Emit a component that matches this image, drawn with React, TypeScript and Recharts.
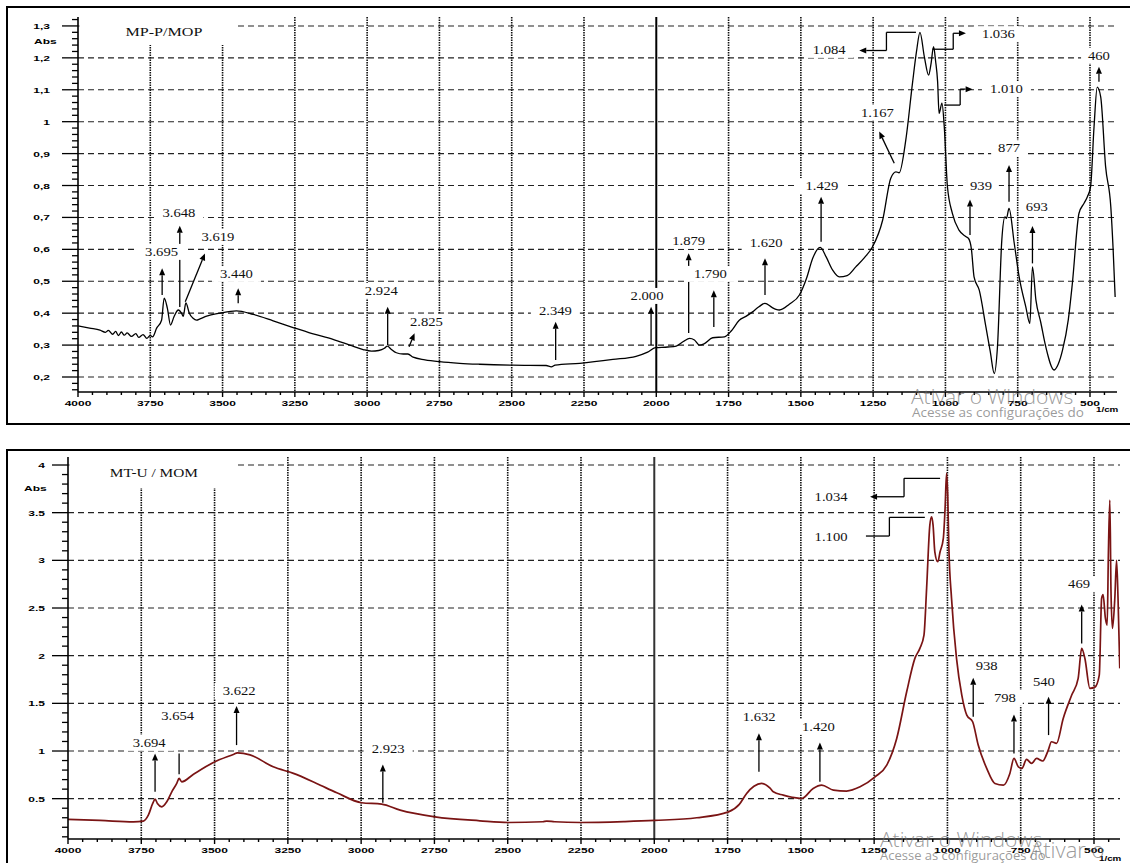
import React from 'react';
import { LineChart, Line, XAxis, YAxis, CartesianGrid, ReferenceLine, ReferenceDot, ReferenceArea } from 'recharts';

// MP-P/MOP spectrum: [wavenumber 1/cm, absorbance]
const mpSpectrum: [number, number][] = [
  [4000, 0.36], [3960, 0.353], [3924, 0.347], [3905, 0.34], [3895, 0.346], [3880, 0.334], [3870, 0.343],
  [3860, 0.33], [3850, 0.341], [3840, 0.331], [3830, 0.338], [3815, 0.327], [3800, 0.336], [3790, 0.324],
  [3775, 0.333], [3762, 0.321], [3750, 0.33], [3742, 0.326], [3728, 0.353], [3711, 0.378], [3702, 0.447],
  [3691, 0.416], [3680, 0.363], [3668, 0.389], [3653, 0.41], [3642, 0.4], [3636, 0.39], [3627, 0.432],
  [3615, 0.4], [3602, 0.384], [3590, 0.378], [3578, 0.382], [3555, 0.391], [3509, 0.4], [3452, 0.407],
  [3394, 0.396], [3325, 0.376], [3256, 0.355], [3190, 0.336], [3118, 0.318], [3060, 0.3], [3014, 0.286],
  [2985, 0.281], [2960, 0.283], [2940, 0.29], [2930, 0.297], [2918, 0.288], [2899, 0.276], [2875, 0.272],
  [2859, 0.272], [2841, 0.262], [2800, 0.254], [2749, 0.248], [2680, 0.243], [2611, 0.24], [2496, 0.237],
  [2381, 0.236], [2363, 0.232], [2350, 0.237], [2265, 0.243], [2150, 0.255], [2070, 0.265], [2030, 0.278],
  [2003, 0.292], [1960, 0.294], [1931, 0.297], [1905, 0.312], [1885, 0.321], [1868, 0.316], [1851, 0.3],
  [1835, 0.304], [1805, 0.323], [1764, 0.326], [1740, 0.345], [1713, 0.378], [1690, 0.39], [1667, 0.404],
  [1645, 0.42], [1624, 0.431], [1600, 0.418], [1586, 0.412], [1574, 0.41], [1540, 0.428], [1505, 0.457],
  [1480, 0.51], [1459, 0.572], [1433, 0.606], [1413, 0.577], [1390, 0.535], [1367, 0.514], [1340, 0.518],
  [1310, 0.545], [1280, 0.574], [1252, 0.608], [1217, 0.692], [1189, 0.823], [1171, 0.843], [1160, 0.84],
  [1137, 0.943], [1114, 1.12], [1100, 1.22], [1088, 1.28], [1073, 1.204], [1058, 1.146], [1050, 1.18],
  [1041, 1.235], [1034, 1.19], [1027, 1.125], [1022, 1.026], [1012, 1.058], [1004, 0.984], [993, 0.796],
  [976, 0.713], [953, 0.66], [930, 0.64], [920, 0.634], [910, 0.6], [901, 0.514], [883, 0.472], [860, 0.357],
  [845, 0.28], [831, 0.211], [820, 0.295], [805, 0.629], [794, 0.702], [789, 0.697], [780, 0.728],
  [762, 0.619], [745, 0.514], [722, 0.42], [708, 0.368], [699, 0.545], [687, 0.441], [670, 0.37],
  [653, 0.295], [624, 0.222], [610, 0.24], [595, 0.284], [575, 0.38], [561, 0.493], [538, 0.713],
  [520, 0.745], [509, 0.765], [498, 0.796], [486, 0.984], [475, 1.108], [463, 1.078], [446, 0.859],
  [428, 0.733], [420, 0.6], [413, 0.451],
];

// MT-U / MOM spectrum
const mtSpectrum: [number, number][] = [
  [4000, 0.282], [3891, 0.272], [3777, 0.257], [3743, 0.265], [3726, 0.327], [3711, 0.45], [3703, 0.495],
  [3695, 0.45], [3680, 0.415], [3663, 0.467], [3646, 0.572], [3629, 0.66], [3621, 0.712], [3612, 0.677],
  [3573, 0.754], [3504, 0.88], [3436, 0.964], [3422, 0.981], [3379, 0.96], [3300, 0.834], [3231, 0.765],
  [3152, 0.66], [3083, 0.562], [2998, 0.457], [2930, 0.443], [2867, 0.38], [2748, 0.31], [2595, 0.268],
  [2498, 0.25], [2380, 0.258], [2367, 0.265], [2340, 0.258], [2253, 0.25], [2100, 0.26], [1998, 0.272],
  [1855, 0.3], [1747, 0.362], [1710, 0.44], [1685, 0.555], [1660, 0.63], [1634, 0.66], [1605, 0.61],
  [1594, 0.572], [1560, 0.537], [1530, 0.515], [1497, 0.502], [1458, 0.607], [1429, 0.642], [1389, 0.59],
  [1344, 0.58], [1298, 0.624], [1247, 0.729], [1207, 0.852], [1173, 1.132], [1139, 1.621], [1111, 1.972],
  [1094, 2.077], [1080, 2.216], [1071, 2.706], [1060, 3.37], [1054, 3.457], [1049, 3.37], [1043, 3.09],
  [1033, 2.985], [1025, 3.09], [1014, 3.23], [1008, 3.545], [1003, 3.913], [999, 3.685], [995, 3.126],
  [986, 2.601], [969, 1.972], [951, 1.587], [934, 1.377], [914, 1.307], [895, 1.062], [866, 0.818],
  [838, 0.66], [809, 0.642], [787, 0.765], [773, 0.922], [758, 0.834], [746, 0.818], [730, 0.912],
  [713, 0.87], [696, 0.922], [675, 0.895], [656, 1.01], [645, 1.097], [628, 1.08], [605, 1.342],
  [576, 1.587], [554, 1.762], [542, 2.077], [531, 1.97], [514, 1.657], [497, 1.67], [482, 1.797],
  [474, 2.6], [469, 2.64], [461, 2.39], [455, 2.32], [451, 3.056], [446, 3.633], [442, 2.67], [437, 2.285],
  [429, 2.6], [423, 3.0], [418, 2.6], [412, 1.867],
];

const xMajorTicks = [4000, 3750, 3500, 3250, 3000, 2750, 2500, 2250, 2000, 1750, 1500, 1250, 1000, 750, 500];
const xAllTicks = Array.from({ length: 72 }, (_, i) => 4000 - i * 50);
const xGridValues = [3750, 3500, 3250, 3000, 2750, 2500, 2250, 1750, 1500, 1250, 1000, 750, 500];

const mpYMajor = [0.2, 0.3, 0.4, 0.5, 0.6, 0.7, 0.8, 0.9, 1, 1.1, 1.2, 1.3];
const mpYAll = Array.from({ length: 59 }, (_, i) => +(0.16 + i * 0.02).toFixed(2));
const mtYMajor = [0.5, 1, 1.5, 2, 2.5, 3, 3.5, 4];
const mtYAll = Array.from({ length: 40 }, (_, i) => +(0.1 + i * 0.1).toFixed(1));

type Callout = { text: string; at: [number, number]; path: [number, number][]; head?: boolean };

const mpCallouts: Callout[] = [
  { text: '3.695', at: [3711, 0.592], path: [[3709, 0.457], [3709, 0.541]] },
  { text: '3.648', at: [3651, 0.714], path: [[3648, 0.419], [3648, 0.674]] },
  { text: '3.619', at: [3516, 0.639], path: [[3629, 0.436], [3561, 0.587]] },
  { text: '3.440', at: [3452, 0.523], path: [[3446, 0.431], [3446, 0.478]] },
  { text: '2.924', at: [2951, 0.47], path: [[2929, 0.3], [2929, 0.42]] },
  { text: '2.825', at: [2795, 0.373], path: [[2855, 0.295], [2836, 0.337]] },
  { text: '2.349', at: [2349, 0.407], path: [[2348, 0.253], [2348, 0.373]] },
  { text: '2.000', at: [2032, 0.454], path: [[2018, 0.3], [2018, 0.42]] },
  { text: '1.879', at: [1888, 0.627], path: [[1888, 0.338], [1888, 0.588]] },
  { text: '1.790', at: [1813, 0.523], path: [[1801, 0.357], [1801, 0.472]] },
  { text: '1.620', at: [1620, 0.619], path: [[1624, 0.457], [1624, 0.572]] },
  { text: '1.429', at: [1427, 0.798], path: [[1430, 0.624], [1430, 0.765]] },
  { text: '1.167', at: [1235, 1.028], path: [[1177, 0.87], [1229, 0.969]] },
  { text: '1.084', at: [1402, 1.225], path: [[1102, 1.28], [1204, 1.28], [1204, 1.223], [1298, 1.223]] },
  { text: '1.036', at: [817, 1.274], path: [[1045, 1.227], [973, 1.227], [973, 1.277], [929, 1.277]] },
  { text: '1.010', at: [789, 1.102], path: [[1004, 1.052], [949, 1.052], [949, 1.102], [906, 1.102]] },
  { text: '939', at: [877, 0.799], path: [[915, 0.645], [915, 0.756]] },
  { text: '877', at: [780, 0.917], path: [[780, 0.749], [780, 0.864]] },
  { text: '693', at: [684, 0.734], path: [[699, 0.556], [699, 0.673]] },
  { text: '460', at: [469, 1.207], path: [[469, 1.125], [469, 1.172]] },
];

const mtCallouts: Callout[] = [
  { text: '3.694', at: [3723, 1.086], path: [[3703, 0.572], [3703, 0.975]] },
  { text: '3.654', at: [3626, 1.369], path: [[3621, 0.755], [3621, 0.975]], head: false },
  { text: '3.622', at: [3416, 1.629], path: [[3425, 1.062], [3425, 1.471]] },
  { text: '2.923', at: [2908, 1.02], path: [[2926, 0.457], [2926, 0.859]] },
  { text: '1.632', at: [1642, 1.359], path: [[1643, 0.782], [1643, 1.185]] },
  { text: '1.420', at: [1440, 1.254], path: [[1435, 0.677], [1435, 1.09]] },
  { text: '1.034', at: [1397, 3.661], path: [[1025, 3.86], [1148, 3.86], [1148, 3.667], [1264, 3.667]] },
  { text: '1.100', at: [1397, 3.248], path: [[1077, 3.451], [1198, 3.451], [1198, 3.255], [1278, 3.255]], head: false },
  { text: '938', at: [866, 1.891], path: [[912, 1.359], [912, 1.768]] },
  { text: '798', at: [804, 1.558], path: [[773, 0.975], [773, 1.384]] },
  { text: '540', at: [671, 1.726], path: [[655, 1.167], [655, 1.569]] },
  { text: '469', at: [551, 2.748], path: [[542, 2.129], [542, 2.538]] },
];

const SANS = '"Liberation Sans", Arial, sans-serif';
const SERIF = '"Liberation Serif", "Times New Roman", serif';
const WIN = '"Open Sans", "Noto Sans", sans-serif';

const XTick = (p: any) => {
  const { x, y, payload } = p;
  const v = payload.value;
  const major = xMajorTicks.includes(v);
  return (
    <g>
      <line x1={x} y1={y} x2={x} y2={y + (major ? 5 : 3)} stroke="#000" strokeWidth={1.4} />
      {major && (
        <text transform={`translate(${x},${y + 14}) scale(1.5,1)`} textAnchor="middle" fontSize={8} fontWeight="bold" fontFamily={SANS} fill="#000">
          {v}
        </text>
      )}
    </g>
  );
};

const makeYTick = (majors: number[], gap: number, comma: boolean) => (p: any) => {
  const { x, y, payload } = p;
  const v = payload.value;
  const major = majors.some((m) => Math.abs(m - v) < 1e-6);
  const label = comma ? String(v).replace('.', ',') : String(v);
  return (
    <g>
      <line x1={x} y1={y} x2={x - (major ? 16 : 6)} y2={y} stroke="#000" strokeWidth={1.3} />
      {major && (
        <text transform={`translate(${x - gap},${y + 3}) scale(1.5,1)`} textAnchor="end" fontSize={8} fontWeight="bold" fontFamily={SANS} fill="#000">
          {label}
        </text>
      )}
    </g>
  );
};

const segShape = (head: boolean) => (p: any) => {
  const { x1, y1, x2, y2 } = p;
  const dx = x2 - x1;
  const dy = y2 - y1;
  const len = Math.sqrt(dx * dx + dy * dy) || 1;
  const ux = dx / len;
  const uy = dy / len;
  const bx = x2 - ux * 7;
  const by = y2 - uy * 7;
  const pts = `${x2},${y2} ${bx - uy * 3},${by + ux * 3} ${bx + uy * 3},${by - ux * 3}`;
  return (
    <g>
      <line x1={x1} y1={y1} x2={head ? bx : x2} y2={head ? by : y2} stroke="#000" strokeWidth={1.3} />
      {head && <polygon points={pts} fill="#000" />}
    </g>
  );
};

const labelShape = (text: string, size: number, sx: number, box: boolean) => (p: any) => {
  const { cx, cy } = p;
  const w = text.length * 6.6 + 16;
  return (
    <g transform={`translate(${cx},${cy})`}>
      {box && <rect x={-w / 2} y={-8} width={w} height={16} fill="#fff" />}
      <text transform={`scale(${sx},1)`} textAnchor="middle" dominantBaseline="central" fontSize={size} fontFamily={SERIF} fill="#111">
        {text}
      </text>
    </g>
  );
};

function renderCallouts(list: Callout[]) {
  const arrows: React.ReactNode[] = [];
  const labels: React.ReactNode[] = [];
  list.forEach((c, ci) => {
    const head = c.head !== false;
    for (let i = 0; i < c.path.length - 1; i++) {
      const a = c.path[i];
      const b = c.path[i + 1];
      const last = i === c.path.length - 2;
      arrows.push(
        <ReferenceLine
          key={`a${ci}-${i}`}
          segment={[{ x: a[0], y: a[1] }, { x: b[0], y: b[1] }]}
          shape={segShape(head && last)}
        />
      );
    }
    labels.push(
      <ReferenceDot key={`l${ci}`} x={c.at[0]} y={c.at[1]} r={0} shape={labelShape(c.text, 12, 1.22, true)} />
    );
  });
  return [...arrows, ...labels];
}

type PanelProps = {
  data: [number, number][];
  height: number;
  margin: { top: number; right: number; left: number; bottom: number };
  xHeight: number;
  xDomain: [number, number];
  yDomain: [number, number];
  yMajor: number[];
  yAll: number[];
  yGap: number;
  comma: boolean;
  stroke: string;
  strokeWidth: number;
  lineColor2000: string;
  title: string;
  titleAt: [number, number];
  titleScale: number;
  titleSize: number;
  whiteout: [number, number, number, number];
  callouts: Callout[];
};

function Panel(props: PanelProps) {
  const rows = props.data.map(([wn, abs]) => ({ wn, abs }));
  return (
    <LineChart width={1130} height={props.height} data={rows} margin={props.margin}>
      <CartesianGrid horizontal vertical={false} horizontalValues={props.yMajor} stroke="#222" strokeDasharray="6 4" strokeWidth={1.1} />
      <CartesianGrid horizontal={false} vertical verticalValues={xGridValues} stroke="#111" strokeDasharray="1.5 1" strokeWidth={1.6} />
      <XAxis
        dataKey="wn"
        type="number"
        domain={props.xDomain}
        reversed
        ticks={xAllTicks}
        interval={0}
        tick={<XTick />}
        tickLine={false}
        tickSize={0}
        tickMargin={0}
        height={props.xHeight}
        axisLine={{ stroke: '#000', strokeWidth: 1.6 }}
        allowDataOverflow
      />
      <YAxis
        type="number"
        domain={props.yDomain}
        ticks={props.yAll}
        interval={0}
        tick={makeYTick(props.yMajor, props.yGap, props.comma)}
        tickLine={false}
        tickSize={0}
        tickMargin={0}
        width={60}
        axisLine={{ stroke: '#000', strokeWidth: 1.6 }}
        allowDataOverflow
      />
      <ReferenceArea
        x1={props.whiteout[0]}
        x2={props.whiteout[1]}
        y1={props.whiteout[2]}
        y2={props.whiteout[3]}
        fill="#fff"
        fillOpacity={1}
        stroke="none"
      />
      <ReferenceLine x={2000} stroke={props.lineColor2000} strokeWidth={2} />
      <Line
        dataKey="abs"
        type="monotone"
        stroke={props.stroke}
        strokeWidth={props.strokeWidth}
        dot={false}
        activeDot={false}
        isAnimationActive={false}
      />
      {renderCallouts(props.callouts)}
      <ReferenceDot
        x={props.titleAt[0]}
        y={props.titleAt[1]}
        r={0}
        shape={labelShape(props.title, props.titleSize, props.titleScale, false)}
      />
    </LineChart>
  );
}

const abs = (s: React.CSSProperties): React.CSSProperties => ({ position: 'absolute', margin: 0, whiteSpace: 'nowrap', ...s });

export default function App() {
  return (
    <div style={{ position: 'absolute', left: 0, top: 0, width: 1130, height: 863, overflow: 'hidden', background: '#fff' }}>
      <div style={abs({ left: 6, top: 6, width: 1140, height: 415, border: '2px solid #000' })} />
      <div style={abs({ left: 6, top: 449, width: 1140, height: 430, border: '2px solid #000' })} />

      <div style={abs({ left: 0, top: 0 })}>
        <Panel
          data={mpSpectrum}
          height={425}
          margin={{ top: 17, right: 13, left: 18, bottom: 3 }}
          xHeight={30}
          xDomain={[406.6, 4000]}
          yDomain={[0.153, 1.328]}
          yMajor={mpYMajor}
          yAll={mpYAll}
          yGap={28}
          comma
          stroke="#000"
          strokeWidth={1.3}
          lineColor2000="#000"
          title="MP-P/MOP"
          titleAt={[3703, 1.281]}
          titleScale={1.4}
          titleSize={11.5}
          whiteout={[3995, 3451, 1.24, 1.328]}
          callouts={mpCallouts}
        />
      </div>

      <div style={abs({ left: 0, top: 425 })}>
        <Panel
          data={mtSpectrum}
          height={438}
          margin={{ top: 32, right: 10, left: 8, bottom: 4 }}
          xHeight={20}
          xDomain={[411.3, 4000]}
          yDomain={[0.077, 4.084]}
          yMajor={mtYMajor}
          yAll={mtYAll}
          yGap={23}
          comma={false}
          stroke="#7a1414"
          strokeWidth={1.7}
          lineColor2000="#333"
          title="MT-U / MOM"
          titleAt={[3707, 3.916]}
          titleScale={1.28}
          titleSize={12}
          whiteout={[3995, 3423, 3.759, 4.084]}
          callouts={mtCallouts}
        />
      </div>

      <div style={abs({ left: 34, top: 37, fontFamily: SANS, fontWeight: 'bold', fontSize: 8, transform: 'scaleX(1.5)', transformOrigin: 'left' })}>Abs</div>
      <div style={abs({ left: 24, top: 484, fontFamily: SANS, fontWeight: 'bold', fontSize: 8, transform: 'scaleX(1.5)', transformOrigin: 'left' })}>Abs</div>
      <div style={abs({ left: 1096, top: 406, fontFamily: SANS, fontWeight: 'bold', fontSize: 7, transform: 'scaleX(1.4)', transformOrigin: 'left' })}>1/cm</div>
      <div style={abs({ left: 1099, top: 855, fontFamily: SANS, fontWeight: 'bold', fontSize: 7, transform: 'scaleX(1.4)', transformOrigin: 'left' })}>1/cm</div>

      <div style={abs({ left: 911, top: 386, fontFamily: WIN, fontSize: 21, fontWeight: 300, color: 'rgba(110,110,110,0.7)', lineHeight: 1 })}>Ativar o Windows</div>
      <div style={abs({ left: 912, top: 406, fontFamily: WIN, fontSize: 13.5, color: 'rgba(110,110,110,0.7)', lineHeight: 1 })}>Acesse as configurações do</div>
      <div style={abs({ left: 880, top: 829, fontFamily: WIN, fontSize: 21, fontWeight: 300, color: 'rgba(110,110,110,0.7)', lineHeight: 1 })}>Ativar o Windows</div>
      <div style={abs({ left: 1030, top: 838, fontFamily: WIN, fontSize: 22, fontWeight: 300, color: 'rgba(110,110,110,0.7)', lineHeight: 1 })}>Ativar o</div>
      <div style={abs({ left: 880, top: 849, fontFamily: WIN, fontSize: 13, color: 'rgba(110,110,110,0.7)', lineHeight: 1 })}>Acesse as configurações do</div>
    </div>
  );
}
